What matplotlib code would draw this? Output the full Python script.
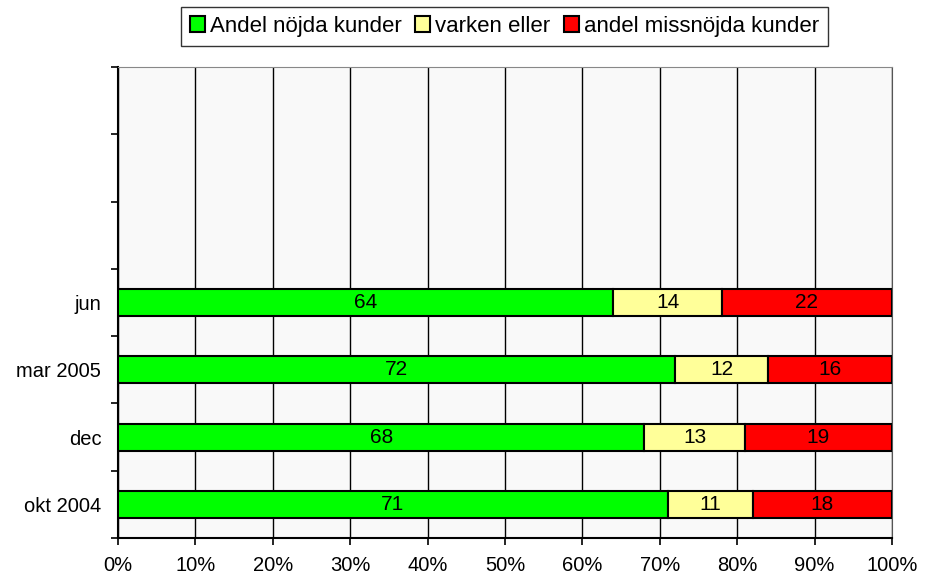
import matplotlib
matplotlib.use("Agg")
import matplotlib.pyplot as plt
import numpy as np

plt.rcParams['font.family'] = ['Liberation Sans', 'DejaVu Sans']

categories = ["okt 2004", "dec", "mar 2005", "jun", "", "", ""]
satisfied = [71, 68, 72, 64]
neutral = [11, 13, 12, 14]
dissatisfied = [18, 19, 16, 22]
series_names = ["Andel nöjda kunder", "varken eller", "andel missnöjda kunder"]
colors = ["#00ff00", "#ffff99", "#ff0000"]
xticks = [0, 10, 20, 30, 40, 50, 60, 70, 80, 90, 100]

fig = plt.figure(figsize=(9.25, 5.77), dpi=100)
ax = fig.add_axes([118/925, 1 - 538/577, (892-118)/925, (538-67)/577])
ax.set_facecolor("#f9f9f9")

n = len(satisfied)
y = np.arange(n) + 0.5
left = np.zeros(n)
for vals, col, name in zip([satisfied, neutral, dissatisfied], colors, series_names):
    vals = np.array(vals, dtype=float)
    bars = ax.barh(y, vals, left=left, height=0.4, color=col, edgecolor="black",
                   linewidth=1.5, label=name, zorder=3)
    for b, v in zip(bars, vals):
        ax.text(b.get_x() + b.get_width()/2, b.get_y() + b.get_height()/2, f"{int(v)}",
                ha="center", va="center", fontsize=15, zorder=4,
                family=['Liberation Sans Narrow', 'Liberation Sans'])
    left += vals

ax.set_xlim(0, 100)
ax.set_ylim(0, len(categories))
ax.set_xticks(xticks)
ax.set_xticklabels([f"{t}%" for t in xticks], fontsize=14.5)
ax.set_yticks(np.arange(len(categories)+1))
ax.set_yticklabels([])
ax.set_yticks(np.arange(len(categories)) + 0.5, minor=True)
ax.set_yticklabels(categories, minor=True, fontsize=14.5)
ax.tick_params(axis='y', which='minor', length=0, pad=12)
ax.tick_params(axis='y', which='major', length=5, width=1.2, direction='out')
ax.tick_params(axis='x', length=5, width=1.2, pad=8)
ax.xaxis.grid(True, color="black", linewidth=1, zorder=0)
ax.set_axisbelow(True)
ax.spines['left'].set_linewidth(1.5)
ax.spines['bottom'].set_linewidth(1.5)
ax.spines['top'].set_color("#888888")
ax.spines['right'].set_color("#555555")

leg = fig.legend(loc="upper center", bbox_to_anchor=(504.5/925, 1 - 7/577), ncol=3, frameon=True,
                 fontsize=16, handlelength=0.68, handleheight=0.68, handletextpad=0.22,
                 columnspacing=0.6, fancybox=False, edgecolor="black", borderpad=0.4,
                 borderaxespad=0)
leg.get_frame().set_linewidth(1)
for h in leg.legend_handles:
    h.set_linewidth(1.5)

fig.savefig("out.png", dpi=100)
